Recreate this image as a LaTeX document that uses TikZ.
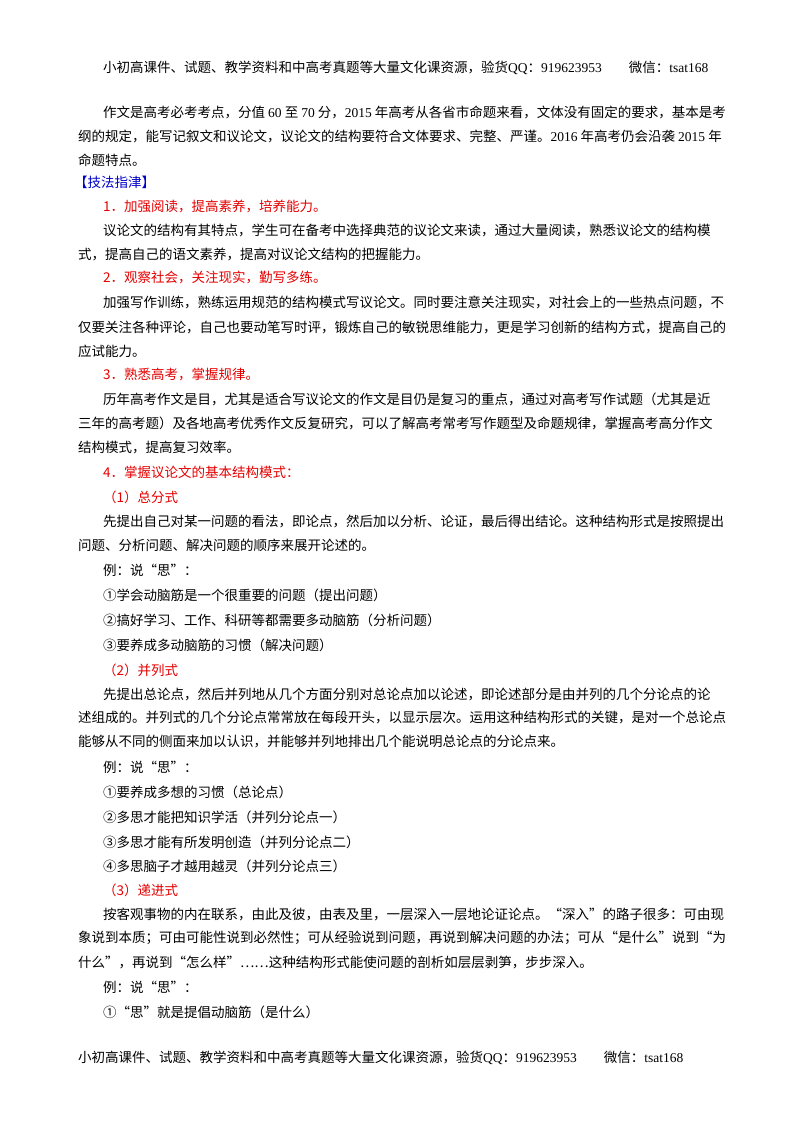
\documentclass[tikz,border=0pt]{standalone}
\usepackage{fontspec}
\setmainfont{Noto Sans CJK SC}
\newfontfamily\latinf{Liberation Serif}
\begin{document}
\begin{tikzpicture}[x=1pt,y=-1pt,
  ln/.style={anchor=west,inner sep=0,font=\fontsize{13.5}{14}\selectfont},
  rd/.style={ln,text=red!90!black}]
\useasboundingbox (0,0) rectangle (800,1132);
\fill[white] (0,0) rectangle (800,1132);
\node[ln] (h1) at (103,68) {小初高课件、试题、教学资料和中高考真题等大量文化课资源，验货{\latinf QQ}：{\latinf 919623953}\qquad 微信：{\latinf tsat168}};
\node[ln] (a1) at (103,112) {作文是高考必考考点，分值 {\latinf 60} 至 {\latinf 70} 分，{\latinf 2015} 年高考从各省市命题来看，文体没有固定的要求，基本是考};
\node[ln] (a2) at (78,136) {纲的规定，能写记叙文和议论文，议论文的结构要符合文体要求、完整、严谨。{\latinf 2016} 年高考仍会沿袭 {\latinf 2015} 年};
\node[ln] (a3) at (78,160) {命题特点。};
\node[ln,text=blue!80!black] (b0) at (74,182) {【技法指津】};
\node[rd] (b1) at (103,206) {1．加强阅读，提高素养，培养能力。};
\node[ln] (b2) at (103,230) {议论文的结构有其特点，学生可在备考中选择典范的议论文来读，通过大量阅读，熟悉议论文的结构模};
\node[ln] (b3) at (78,254) {式，提高自己的语文素养，提高对议论文结构的把握能力。};
\node[rd] (c1) at (103,278) {2．观察社会，关注现实，勤写多练。};
\node[ln] (c2) at (103,302) {加强写作训练，熟练运用规范的结构模式写议论文。同时要注意关注现实，对社会上的一些热点问题，不};
\node[ln] (c3) at (78,327) {仅要关注各种评论，自己也要动笔写时评，锻炼自己的敏锐思维能力，更是学习创新的结构方式，提高自己的};
\node[ln] (c4) at (78,351) {应试能力。};
\node[rd] (d1) at (103,375) {3．熟悉高考，掌握规律。};
\node[ln] (d2) at (103,399) {历年高考作文是目，尤其是适合写议论文的作文是目仍是复习的重点，通过对高考写作试题（尤其是近};
\node[ln] (d3) at (78,423) {三年的高考题）及各地高考优秀作文反复研究，可以了解高考常考写作题型及命题规律，掌握高考高分作文};
\node[ln] (d4) at (78,447) {结构模式，提高复习效率。};
\node[rd] (e1) at (103,472) {4．掌握议论文的基本结构模式：};
\node[rd] (f1) at (103,497) {（1）总分式};
\node[ln] (f2) at (103,521) {先提出自己对某一问题的看法，即论点，然后加以分析、论证，最后得出结论。这种结构形式是按照提出};
\node[ln] (f3) at (78,545) {问题、分析问题、解决问题的顺序来展开论述的。};
\node[ln] (f4) at (103,570) {例：说“思”：};
\node[ln] (f5) at (103,595) {①学会动脑筋是一个很重要的问题（提出问题）};
\node[ln] (f6) at (103,620) {②搞好学习、工作、科研等都需要多动脑筋（分析问题）};
\node[ln] (f7) at (103,645) {③要养成多动脑筋的习惯（解决问题）};
\node[rd] (g1) at (103,670) {（2）并列式};
\node[ln] (g2) at (103,694) {先提出总论点，然后并列地从几个方面分别对总论点加以论述，即论述部分是由并列的几个分论点的论};
\node[ln] (g3) at (78,718) {述组成的。并列式的几个分论点常常放在每段开头，以显示层次。运用这种结构形式的关键，是对一个总论点};
\node[ln] (g4) at (78,742) {能够从不同的侧面来加以认识，并能够并列地排出几个能说明总论点的分论点来。};
\node[ln] (g5) at (103,767) {例：说“思”：};
\node[ln] (g6) at (103,792) {①要养成多想的习惯（总论点）};
\node[ln] (g7) at (103,817) {②多思才能把知识学活（并列分论点一）};
\node[ln] (g8) at (103,842) {③多思才能有所发明创造（并列分论点二）};
\node[ln] (g9) at (103,866) {④多思脑子才越用越灵（并列分论点三）};
\node[rd] (k1) at (103,890) {（3）递进式};
\node[ln] (k2) at (103,914) {按客观事物的内在联系，由此及彼，由表及里，一层深入一层地论证论点。“深入”的路子很多：可由现};
\node[ln] (k3) at (78,938) {象说到本质；可由可能性说到必然性；可从经验说到问题，再说到解决问题的办法；可从“是什么”说到“为};
\node[ln] (k4) at (78,962) {什么”，再说到“怎么样”……这种结构形式能使问题的剖析如层层剥笋，步步深入。};
\node[ln] (k5) at (103,987) {例：说“思”：};
\node[ln] (k6) at (103,1012) {①“思”就是提倡动脑筋（是什么）};
\node[ln] (h2) at (78,1058) {小初高课件、试题、教学资料和中高考真题等大量文化课资源，验货{\latinf QQ}：{\latinf 919623953}\qquad 微信：{\latinf tsat168}};
\end{tikzpicture}
\end{document}
